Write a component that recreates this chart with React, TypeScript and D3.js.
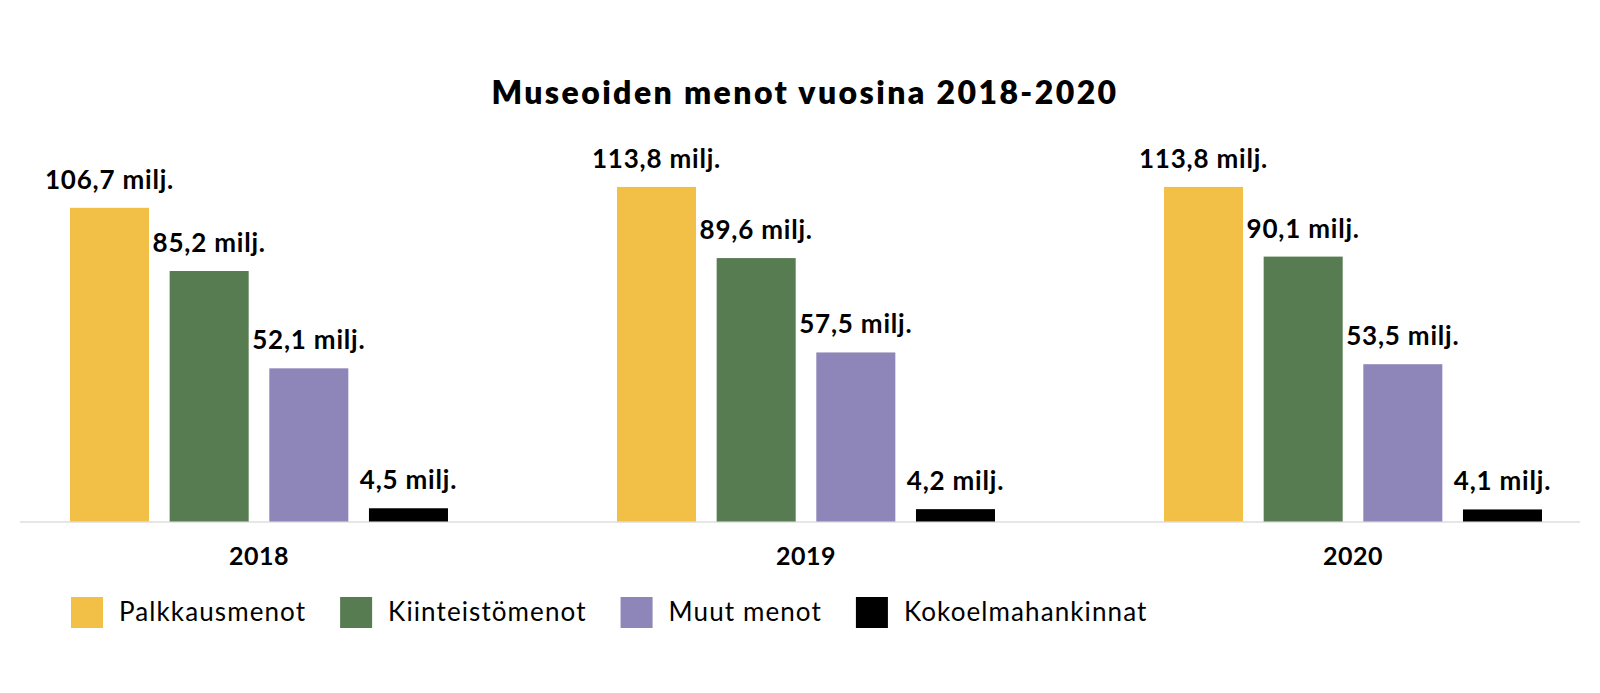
import React, { useEffect, useRef } from 'react';
import { select, scaleBand, scaleLinear } from 'd3';

const years = ['2018', '2019', '2020'];
const series = ['Palkkausmenot', 'Kiinteistömenot', 'Muut menot', 'Kokoelmahankinnat'];
const seriesColors = ['#F2C046', '#587C52', '#8E86B9', '#000000'];
const palkkausmenot = [106.7, 113.8, 113.8];
const kiinteistomenot = [85.2, 89.6, 90.1];
const muutMenot = [52.1, 57.5, 53.5];
const kokoelmahankinnat = [4.5, 4.2, 4.1];
const valuesBySeries = [palkkausmenot, kiinteistomenot, muutMenot, kokoelmahankinnat];
const title = 'Museoiden menot vuosina 2018-2020';

const fmt = (v: number) => v.toFixed(1).replace('.', ',') + ' milj.';

const App: React.FC = () => {
  const svgRef = useRef<SVGSVGElement>(null);
  const width = 1600;
  const height = 693;

  useEffect(() => {
    document.body.style.margin = '0';
    if (!svgRef.current) return;
    const svg = select(svgRef.current);
    svg.selectAll('*').remove();

    const font = "'Lato', sans-serif";
    const baseY = 521.5;

    svg.append('rect').attr('width', width).attr('height', height).attr('fill', '#ffffff');

    // title
    svg.append('text')
      .attr('x', 805).attr('y', 104).attr('text-anchor', 'middle')
      .attr('font-family', font).attr('font-weight', 800).attr('font-size', '32px')
      .attr('letter-spacing', '2.4px')
      .attr('fill', '#000').text(title);

    const x0 = scaleBand<string>().domain(years).range([70, 1542]).paddingInner(0.309).paddingOuter(0);
    const x1 = scaleBand<string>().domain(series).range([0, x0.bandwidth()]).paddingInner(0.207).paddingOuter(0);
    const y = scaleLinear().domain([0, 120]).range([baseY, baseY - 120 * 2.94]);

    // baseline
    svg.append('line')
      .attr('x1', 20).attr('x2', 1580).attr('y1', baseY + 0.5).attr('y2', baseY + 0.5)
      .attr('stroke', '#e6e6e6').attr('stroke-width', 2);

    const groups = svg.selectAll('.grp').data(years).enter().append('g')
      .attr('class', 'grp')
      .attr('transform', d => `translate(${x0(d)},0)`);

    groups.each(function (year, yi) {
      const g = select(this);
      series.forEach((s, si) => {
        const v = valuesBySeries[si][yi];
        const bx = x1(s) as number;
        g.append('rect')
          .attr('x', bx).attr('y', y(v))
          .attr('width', x1.bandwidth()).attr('height', baseY - y(v))
          .attr('fill', seriesColors[si]);
        g.append('text')
          .attr('x', bx + x1.bandwidth() / 2).attr('y', y(v) - 19)
          .attr('text-anchor', 'middle')
          .attr('font-family', font).attr('font-weight', 700).attr('font-size', '26px')
          .attr('letter-spacing', '0.8px')
          .attr('fill', '#000').text(fmt(v));
      });
      g.append('text')
        .attr('x', x0.bandwidth() / 2).attr('y', 565)
        .attr('text-anchor', 'middle')
        .attr('font-family', font).attr('font-weight', 700).attr('font-size', '25px')
        .attr('letter-spacing', '0.5px')
        .attr('fill', '#000').text(year);
    });

    // legend
    const legend = svg.append('g').attr('transform', 'translate(71,597)');
    let lx = 0;
    series.forEach((s, i) => {
      const item = legend.append('g').attr('transform', `translate(${lx},0)`);
      item.append('rect').attr('width', 32).attr('height', 31).attr('fill', seriesColors[i]);
      const t = item.append('text')
        .attr('x', 48).attr('y', 24)
        .attr('font-family', font).attr('font-size', '26px').attr('letter-spacing', '1.1px')
        .attr('fill', '#000')
        .text(s);
      const tw = (t.node() as SVGTextElement).getComputedTextLength();
      lx += 48 + tw + 34;
    });
  }, []);

  return (
    <svg ref={svgRef} width={width} height={height} viewBox={`0 0 ${width} ${height}`} style={{ display: 'block' }} />
  );
};

export default App;
